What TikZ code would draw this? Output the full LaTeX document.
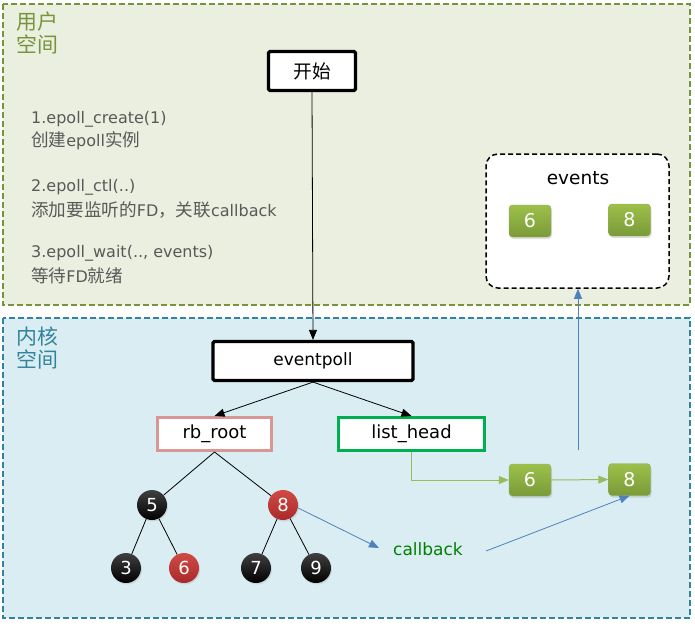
\documentclass[tikz,border=0pt]{standalone}
\usepackage{fontspec}
\setmainfont{DejaVu Sans}
\newfontfamily\cj[Scale=1.1]{Noto Sans CJK SC}
\usetikzlibrary{arrows.meta,shadows}
\definecolor{userfill}{HTML}{EBEFDF}
\definecolor{userborder}{HTML}{77933C}
\definecolor{kernfill}{HTML}{DAEDF3}
\definecolor{kernborder}{HTML}{31849B}
\definecolor{greytext}{HTML}{595959}
\definecolor{rbcol}{HTML}{D99694}
\definecolor{lhcol}{HTML}{00B050}
\definecolor{gtop}{HTML}{9CC04A}
\definecolor{gbot}{HTML}{7A9A38}
\definecolor{bluearr}{HTML}{4F81BD}
\definecolor{cbtext}{HTML}{008000}
\definecolor{greenarr}{HTML}{9BBB59}
\definecolor{redtop}{HTML}{D04A44}
\definecolor{redbot}{HTML}{A92A2A}
\tikzset{
  region/.style={dashed, dash pattern=on 6pt off 3pt, line width=1.5pt},
  blackbox/.style={draw=black, line width=3.2pt, fill=white, rounded corners=1.5pt, inner sep=0pt, font=\fontsize{17}{20}\selectfont},
  structbox/.style={line width=3pt, fill=white, inner sep=0pt, minimum height=33pt, font=\fontsize{18}{21}\selectfont},
  gbox/.style={rounded corners=3.5pt, top color=gtop, bottom color=gbot, draw=gbot!80!white, line width=0.4pt, minimum width=42pt, minimum height=32pt, inner sep=0pt, text=white, font=\fontsize{19}{22}\selectfont, drop shadow={shadow xshift=1pt, shadow yshift=-2pt, opacity=0.25}},
  bnode/.style={circle, minimum size=30pt, inner sep=0pt, top color=black!75, bottom color=black, text=white, font=\fontsize{18}{22}\selectfont, drop shadow={shadow xshift=1pt, shadow yshift=-1.5pt, opacity=0.2}},
  rnode/.style={bnode, top color=redtop, bottom color=redbot},
  treeedge/.style={line width=0.8pt, black},
  blackarr/.style={line width=0.8pt, -{Triangle[length=10pt,width=8pt]}},
  bluearrow/.style={bluearr, line width=0.8pt, -{Triangle[length=10pt,width=8pt]}},
  greenarrow/.style={greenarr, line width=1pt, -{Triangle[length=10pt,width=8pt]}},
  desc/.style={anchor=west, text=greytext, inner sep=0pt, font=\fontsize{16}{19}\selectfont},
  spacelabel/.style={anchor=north west, align=left, inner sep=0pt, font=\cj\fontsize{19}{23}\selectfont}
}
\begin{document}
\begin{tikzpicture}[x=1pt,y=-1pt]
\useasboundingbox (0,0) rectangle (695,623);
% regions
\draw[region, draw=userborder, fill=userfill] (3,4) rectangle (690,305);
\draw[region, draw=kernborder, fill=kernfill] (3,318) rectangle (690,618);
\node[spacelabel, text=userborder] (ulabel) at (16,12) {用户\\空间};
\node[spacelabel, text=kernborder] (klabel) at (16,327) {内核\\空间};
% descriptions
\node[desc] (t1) at (31,119) {1.epoll\_create(1)};
\node[desc] (t2) at (31,141) {{\cj 创建}epoll{\cj 实例}};
\node[desc] (t3) at (31,187) {2.epoll\_ctl(..)};
\node[desc] (t4) at (31,210) {{\cj 添加要监听的}FD{\cj ，关联}callback};
\node[desc] (t5) at (31,253) {3.epoll\_wait(.., events)};
\node[desc] (t6) at (31,276) {{\cj 等待}FD{\cj 就绪}};
% main boxes
\node[blackbox, minimum width=87pt, minimum height=39pt] (start) at (312,71) {\cj 开始};
\node[blackbox, minimum width=200pt, minimum height=39pt] (ep) at (313,361) {eventpoll};
\node[structbox, draw=rbcol, minimum width=114pt] (rb) at (214.5,434) {rb\_root};
\node[structbox, draw=lhcol, minimum width=146pt] (lh) at (411.5,434) {list\_head};
\draw[blackarr] (start.south) -- (ep.north);
\draw[blackarr] (ep.south) -- (rb.north);
\draw[blackarr] (ep.south) -- (lh.north);
% tree
\node[bnode] (n5) at (152,505) {5};
\node[rnode] (n8) at (283,505) {8};
\node[bnode] (n3) at (126,568) {3};
\node[rnode] (n6) at (184,568) {6};
\node[bnode] (n7) at (256,568) {7};
\node[bnode] (n9) at (316,568) {9};
\draw[treeedge] (rb.south) -- (n5);
\draw[treeedge] (rb.south) -- (n8);
\draw[treeedge] (n5) -- (n3);
\draw[treeedge] (n5) -- (n6);
\draw[treeedge] (n8) -- (n7);
\draw[treeedge] (n8) -- (n9);
% callback
\node[text=cbtext, font=\fontsize{17}{20}\selectfont, inner sep=0pt] (cb) at (428,549) {callback};
\coordinate (cbin) at (379,548);
\coordinate (cbout) at (486,551);
\draw[bluearrow] (n8.east) ++(0,3) -- (cbin);
% ready list
\node[gbox] (r6) at (530,480) {6};
\node[gbox] (r8) at (629.5,479.5) {8};
\draw[greenarrow] (lh.south) |- (r6.west);
\draw[greenarrow] (r6.east) -- (r8.west);
\draw[bluearrow] (cbout) -- (r8.south);
% events
\node[draw=black, dashed, dash pattern=on 5pt off 3pt, line width=1.5pt, rounded corners=12pt, fill=white, minimum width=183pt, minimum height=134pt] (ev) at (577.5,221) {};
\node[font=\fontsize{18.5}{22}\selectfont, inner sep=0pt] (evt) at (578,178) {events};
\node[gbox] (e6) at (530,221) {6};
\node[gbox] (e8) at (629.5,220) {8};
\coordinate (upfrom) at (578,450);
\draw[bluearrow] (upfrom) -- (ev.south -| upfrom);
\end{tikzpicture}
\end{document}
